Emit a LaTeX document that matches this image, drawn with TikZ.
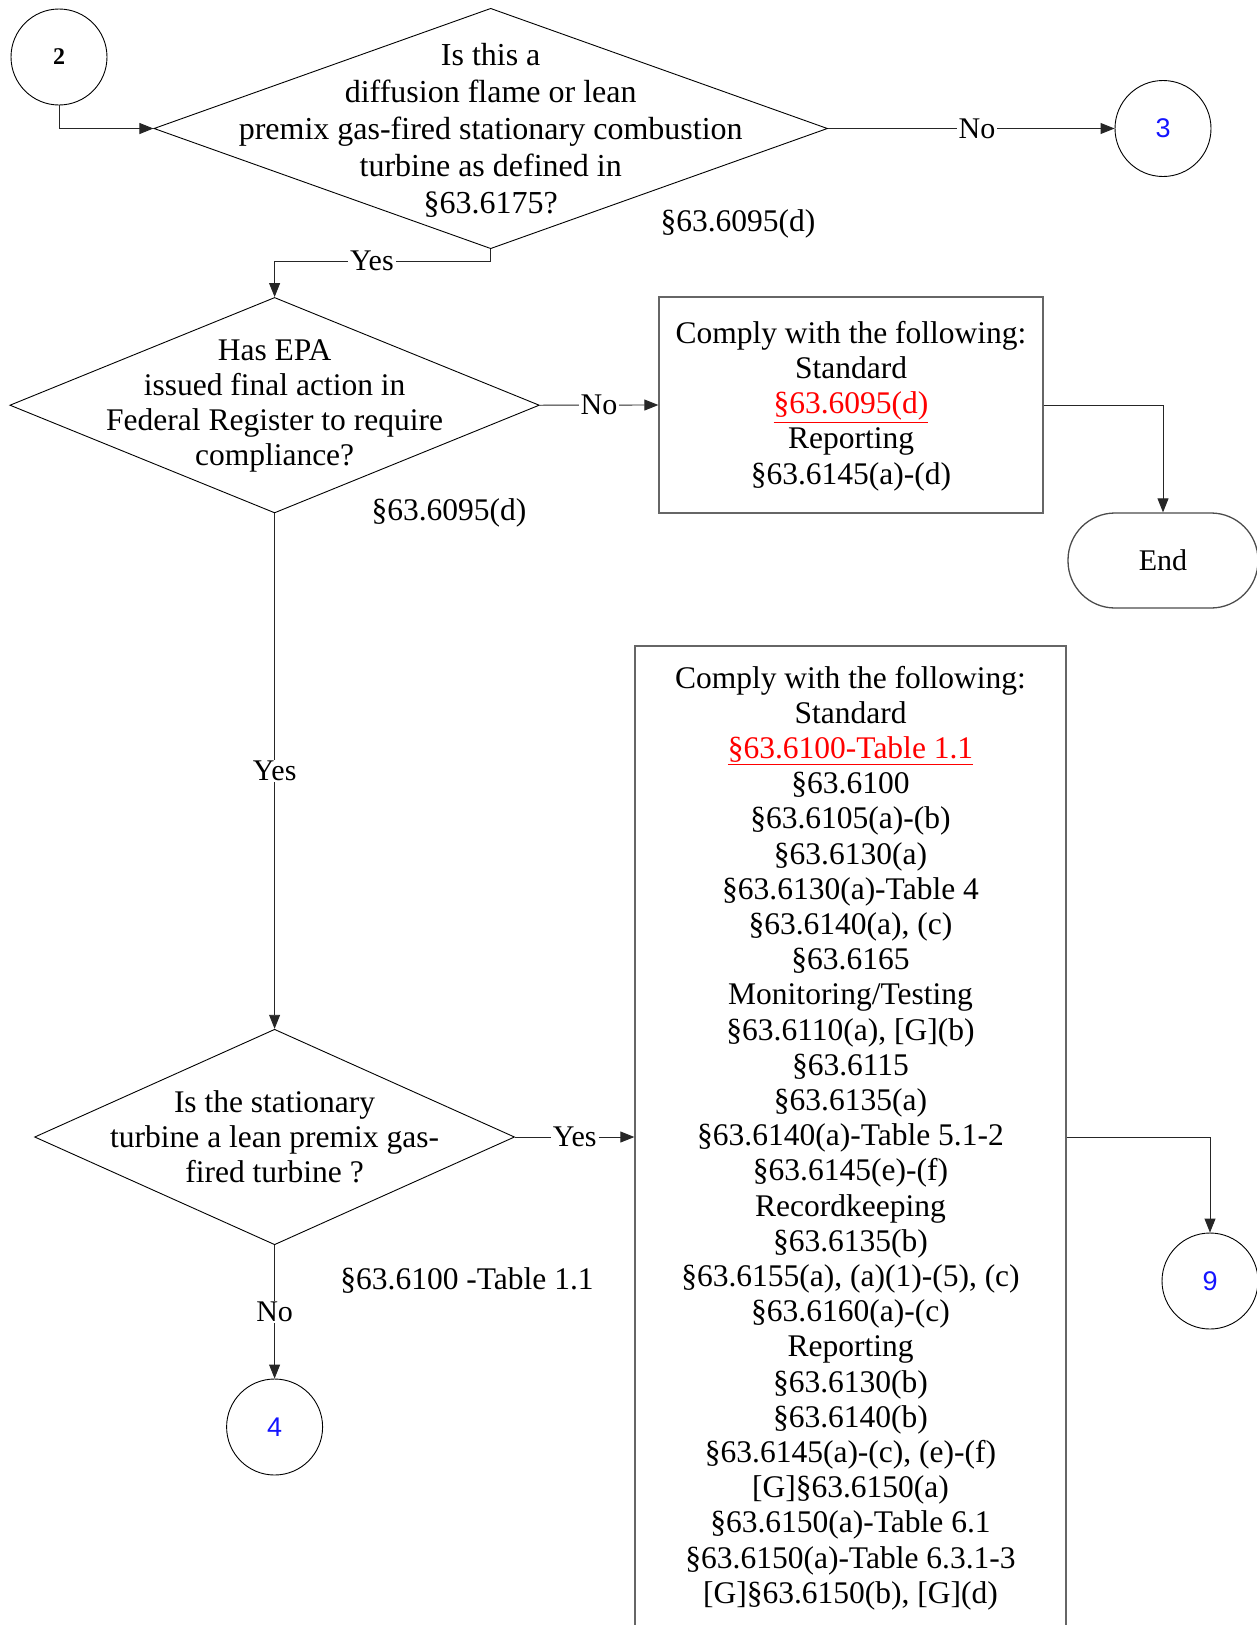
\documentclass[tikz,border=0pt]{standalone}
\usepackage{fontspec}
\setmainfont{Liberation Serif}
\newfontfamily\numfont{Liberation Sans}
\usetikzlibrary{shapes.geometric,arrows.meta}
\definecolor{linkred}{RGB}{255,0,0}
\definecolor{numblue}{RGB}{20,20,255}
\begin{document}
\begin{tikzpicture}[x=1pt,y=-1pt,
 dia/.style={draw=black, line width=0.9pt, diamond, inner sep=0pt},
 box/.style={draw=black!60, line width=1.3pt, rectangle, inner sep=0pt},
 txt/.style={align=center, font=\fontsize{31.5}{35.2}\selectfont, inner sep=0pt},
 conn/.style={circle, draw=black, line width=0.9pt, minimum size=96pt, inner sep=0pt},
 ln/.style={draw=black!85, line width=0.9pt},
 arr/.style={ln, -{Triangle[length=14pt,width=11pt]}},
 lbl/.style={fill=white, inner xsep=2pt, inner ysep=1pt, font=\fontsize{30}{33}\selectfont},
 note/.style={inner sep=0pt, font=\fontsize{31.5}{35}\selectfont},
 ]
\useasboundingbox (0,0) rectangle (1257,1625);

% connectors (circles)
\node[conn, font=\fontsize{24}{24}\selectfont\bfseries] (c2) at (59,57) {2};
\node[conn, font=\numfont\fontsize{27}{27}\selectfont, text=numblue] (c3) at (1163,128.5) {3};
\node[conn, font=\numfont\fontsize{27}{27}\selectfont, text=numblue] (c4) at (274.6,1427) {4};
\node[conn, font=\numfont\fontsize{27}{27}\selectfont, text=numblue] (c9) at (1210,1281) {9};

% decisions
\node[dia, minimum width=673.6pt, minimum height=240.4pt] (d1) at (490.7,128.5) {};
\node[txt, font=\fontsize{32}{37}\selectfont] (t1) at (490.7,130) {Is this a\\ diffusion flame or lean\\ premix gas-fired stationary combustion\\ turbine as defined in\\ §63.6175?};

\node[dia, minimum width=529.5pt, minimum height=215.5pt] (d2) at (274.6,405.2) {};
\node[txt] (t2) at (274.6,406) {Has EPA\\ issued final action in\\ Federal Register to require\\ compliance?};

\node[dia, minimum width=480pt, minimum height=215.5pt] (d3) at (274.6,1137) {};
\node[txt] (t3) at (274.6,1137) {Is the stationary\\ turbine a lean premix gas-\\ fired turbine ?};

% boxes
\node[box, minimum width=384pt, minimum height=216pt] (b1) at (851,405) {};
\node[txt] (tb1) at (851,406) {Comply with the following:\\ Standard\\ \textcolor{linkred}{\underline{§63.6095(d)}}\\ Reporting\\ §63.6145(a)-(d)};

\node[box, minimum width=431pt, minimum height=982pt] (b2) at (850.5,1137) {};
\node[txt] (tb2) at (850.5,1138) {Comply with the following:\\ Standard\\ \textcolor{linkred}{\underline{§63.6100-Table 1.1}}\\ §63.6100\\ §63.6105(a)-(b)\\ §63.6130(a)\\ §63.6130(a)-Table 4\\ §63.6140(a), (c)\\ §63.6165\\ Monitoring/Testing\\ §63.6110(a), {[G]}(b)\\ §63.6115\\ §63.6135(a)\\ §63.6140(a)-Table 5.1-2\\ §63.6145(e)-(f)\\ Recordkeeping\\ §63.6135(b)\\ §63.6155(a), (a)(1)-(5), (c)\\ §63.6160(a)-(c)\\ Reporting\\ §63.6130(b)\\ §63.6140(b)\\ §63.6145(a)-(c), (e)-(f)\\ {[G]}§63.6150(a)\\ §63.6150(a)-Table 6.1\\ §63.6150(a)-Table 6.3.1-3\\ {[G]}§63.6150(b), {[G]}(d)};

% terminator
\node[draw=black!70, line width=1.3pt, rectangle, rounded corners=47pt, minimum width=190pt, minimum height=95pt, font=\fontsize{30}{33}\selectfont] (end) at (1163,560.5) {End};

% notes
\node[note] (n1) at (738,224) {§63.6095(d)};
\node[note] (n2) at (449,513) {§63.6095(d)};
\node[note] (n3) at (467,1281) {§63.6100 -Table 1.1};

% edges
\draw[arr] (c2.south) |- (d1.west);
\draw[arr] (d1.east) -- node[lbl, pos=0.52]{No} (c3.west);
\draw[ln] (d1.south) -- ++(0,12) coordinate (k1);
\draw[arr] (k1) -- node[lbl, pos=0.55]{Yes} (k1 -| d2.north) -- (d2.north);
\draw[arr] (d2.east) -- node[lbl]{No} (b1.west);
\draw[arr] (b1.east) -| (end.north);
\draw[arr] (d2.south) -- node[lbl, pos=0.5]{Yes} (d3.north);
\draw[arr] (d3.east) -- node[lbl]{Yes} (b2.west);
\draw[arr] (b2.east) -| (c9.north);
\draw[arr] (d3.south) -- node[lbl, pos=0.5]{No} (c4.north);
\end{tikzpicture}
\end{document}
